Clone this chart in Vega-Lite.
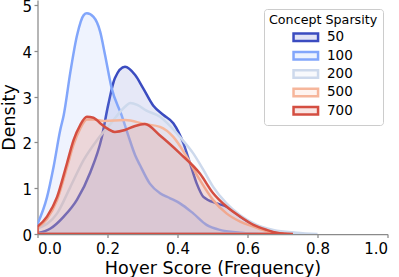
{
  "$schema": "https://vega.github.io/schema/vega-lite/v6.json",
  "width": 350,
  "height": 234,
  "autosize": {"type": "none"},
  "padding": {"left": 37.5, "top": 0, "right": 11.5, "bottom": 43},
  "config": {
    "view": {"stroke": null},
    "font": "DejaVu Sans",
    "axis": {
      "grid": false,
      "domainColor": "#8a8a8a",
      "domainWidth": 1.25,
      "tickColor": "#8a8a8a",
      "tickWidth": 1.25,
      "tickSize": 3.5,
      "labelFontSize": 15,
      "labelColor": "#000000",
      "titleFontSize": 17.5,
      "titleFontWeight": "normal",
      "titleColor": "#000000"
    }
  },
  "data": {
    "values": [
      {"k": 50, "x": 0, "density": 0.02},
      {"k": 50, "x": 0.037, "density": 0.12},
      {"k": 50, "x": 0.075, "density": 0.38},
      {"k": 50, "x": 0.113, "density": 0.75},
      {"k": 50, "x": 0.151, "density": 1.35},
      {"k": 50, "x": 0.183, "density": 2.09},
      {"k": 50, "x": 0.202, "density": 2.82},
      {"k": 50, "x": 0.221, "density": 3.4},
      {"k": 50, "x": 0.25, "density": 3.65},
      {"k": 50, "x": 0.279, "density": 3.47},
      {"k": 50, "x": 0.302, "density": 3.18},
      {"k": 50, "x": 0.331, "density": 2.8},
      {"k": 50, "x": 0.36, "density": 2.6},
      {"k": 50, "x": 0.388, "density": 2.42},
      {"k": 50, "x": 0.417, "density": 1.98},
      {"k": 50, "x": 0.436, "density": 1.54},
      {"k": 50, "x": 0.455, "density": 1.1},
      {"k": 50, "x": 0.474, "density": 0.81},
      {"k": 50, "x": 0.512, "density": 0.67},
      {"k": 50, "x": 0.54, "density": 0.6},
      {"k": 50, "x": 0.579, "density": 0.38},
      {"k": 50, "x": 0.617, "density": 0.2},
      {"k": 50, "x": 0.655, "density": 0.09},
      {"k": 50, "x": 0.7, "density": 0.01},
      {"k": 100, "x": 0, "density": 0.22},
      {"k": 100, "x": 0.027, "density": 0.8},
      {"k": 100, "x": 0.046, "density": 1.47},
      {"k": 100, "x": 0.065, "density": 2.27},
      {"k": 100, "x": 0.075, "density": 2.6},
      {"k": 100, "x": 0.094, "density": 3.54},
      {"k": 100, "x": 0.113, "density": 4.34},
      {"k": 100, "x": 0.132, "density": 4.78},
      {"k": 100, "x": 0.141, "density": 4.82},
      {"k": 100, "x": 0.16, "density": 4.74},
      {"k": 100, "x": 0.179, "density": 4.42},
      {"k": 100, "x": 0.193, "density": 3.91},
      {"k": 100, "x": 0.212, "density": 3.18},
      {"k": 100, "x": 0.24, "density": 2.6},
      {"k": 100, "x": 0.259, "density": 2.16},
      {"k": 100, "x": 0.279, "density": 1.72},
      {"k": 100, "x": 0.293, "density": 1.5},
      {"k": 100, "x": 0.321, "density": 1.1},
      {"k": 100, "x": 0.35, "density": 0.89},
      {"k": 100, "x": 0.379, "density": 0.78},
      {"k": 100, "x": 0.407, "density": 0.67},
      {"k": 100, "x": 0.445, "density": 0.45},
      {"k": 100, "x": 0.483, "density": 0.2},
      {"k": 100, "x": 0.521, "density": 0.09},
      {"k": 100, "x": 0.579, "density": 0.03},
      {"k": 100, "x": 0.63, "density": 0.0},
      {"k": 200, "x": 0, "density": 0.12},
      {"k": 200, "x": 0.056, "density": 0.45},
      {"k": 200, "x": 0.094, "density": 1.03},
      {"k": 200, "x": 0.132, "density": 1.62},
      {"k": 200, "x": 0.17, "density": 2.05},
      {"k": 200, "x": 0.208, "density": 2.4},
      {"k": 200, "x": 0.25, "density": 2.78},
      {"k": 200, "x": 0.265, "density": 2.86},
      {"k": 200, "x": 0.285, "density": 2.82},
      {"k": 200, "x": 0.31, "density": 2.7},
      {"k": 200, "x": 0.35, "density": 2.56},
      {"k": 200, "x": 0.407, "density": 2.12},
      {"k": 200, "x": 0.445, "density": 1.76},
      {"k": 200, "x": 0.474, "density": 1.4},
      {"k": 200, "x": 0.502, "density": 1.03},
      {"k": 200, "x": 0.54, "density": 0.67},
      {"k": 200, "x": 0.579, "density": 0.41},
      {"k": 200, "x": 0.626, "density": 0.2},
      {"k": 200, "x": 0.674, "density": 0.09},
      {"k": 200, "x": 0.74, "density": 0.03},
      {"k": 200, "x": 0.8, "density": 0.0},
      {"k": 500, "x": 0, "density": 0.14},
      {"k": 500, "x": 0.027, "density": 0.33},
      {"k": 500, "x": 0.056, "density": 0.74},
      {"k": 500, "x": 0.084, "density": 1.45},
      {"k": 500, "x": 0.103, "density": 1.95},
      {"k": 500, "x": 0.122, "density": 2.3},
      {"k": 500, "x": 0.141, "density": 2.5},
      {"k": 500, "x": 0.16, "density": 2.5},
      {"k": 500, "x": 0.19, "density": 2.47},
      {"k": 500, "x": 0.25, "density": 2.49},
      {"k": 500, "x": 0.307, "density": 2.4},
      {"k": 500, "x": 0.35, "density": 2.34},
      {"k": 500, "x": 0.388, "density": 2.12},
      {"k": 500, "x": 0.426, "density": 1.69},
      {"k": 500, "x": 0.464, "density": 1.18},
      {"k": 500, "x": 0.502, "density": 0.74},
      {"k": 500, "x": 0.54, "density": 0.45},
      {"k": 500, "x": 0.579, "density": 0.27},
      {"k": 500, "x": 0.617, "density": 0.16},
      {"k": 500, "x": 0.655, "density": 0.06},
      {"k": 500, "x": 0.7, "density": 0.01},
      {"k": 700, "x": 0, "density": 0.16},
      {"k": 700, "x": 0.027, "density": 0.38},
      {"k": 700, "x": 0.056, "density": 0.81},
      {"k": 700, "x": 0.084, "density": 1.54},
      {"k": 700, "x": 0.103, "density": 2.05},
      {"k": 700, "x": 0.122, "density": 2.38},
      {"k": 700, "x": 0.141, "density": 2.56},
      {"k": 700, "x": 0.16, "density": 2.54},
      {"k": 700, "x": 0.179, "density": 2.42},
      {"k": 700, "x": 0.2, "density": 2.3},
      {"k": 700, "x": 0.221, "density": 2.23},
      {"k": 700, "x": 0.25, "density": 2.27},
      {"k": 700, "x": 0.279, "density": 2.36},
      {"k": 700, "x": 0.307, "density": 2.4},
      {"k": 700, "x": 0.35, "density": 2.15},
      {"k": 700, "x": 0.407, "density": 1.76},
      {"k": 700, "x": 0.464, "density": 1.32},
      {"k": 700, "x": 0.502, "density": 0.89},
      {"k": 700, "x": 0.54, "density": 0.6},
      {"k": 700, "x": 0.579, "density": 0.38},
      {"k": 700, "x": 0.617, "density": 0.2},
      {"k": 700, "x": 0.655, "density": 0.09},
      {"k": 700, "x": 0.683, "density": 0.03},
      {"k": 700, "x": 0.73, "density": 0.0}
    ]
  },
  "mark": {"type": "area", "interpolate": "monotone", "fillOpacity": 0.13, "strokeOpacity": 1, "strokeWidth": 2.5, "clip": true},
  "encoding": {
    "x": {
      "field": "x", "type": "quantitative",
      "scale": {"domain": [0, 1], "nice": false},
      "axis": {"values": [0, 0.2, 0.4, 0.6, 0.8, 1], "format": ".1f", "title": "Hoyer Score (Frequency)", "labelPadding": 4, "titlePadding": 2.5}
    },
    "y": {
      "field": "density", "type": "quantitative", "stack": null,
      "scale": {"domain": [0, 5.11], "nice": false},
      "axis": {"values": [0, 1, 2, 3, 4, 5], "title": "Density", "labelPadding": 2.5, "labelOffset": 1.5, "titlePadding": 3.5}
    },
    "fill": {
      "field": "k", "type": "ordinal",
      "scale": {"domain": [50, 100, 200, 500, 700], "range": ["#3b4cc0", "#82a6fb", "#cdd9ec", "#f6b69b", "#d44e41"]},
      "legend": {
        "orient": "none", "legendX": 226.5, "legendY": 9,
        "title": "Concept Sparsity", "titleFontSize": 12.7, "titleFontWeight": "normal", "titleAnchor": "start", "titleColor": "#000000", "titlePadding": 3.8,
        "labelFontSize": 13.5, "labelColor": "#000000", "labelOffset": 14.2,
        "symbolType": "M-3.27,-1H3.27V1H-3.27Z", "symbolSize": 56.25, "symbolStrokeWidth": 2.5, "symbolOffset": 21.8,
        "rowPadding": 0.4, "padding": 5, "strokeColor": "#cccccc", "fillColor": "#ffffff", "cornerRadius": 3,
        "encode": {
          "symbols": {"update": {"x": {"value": 36.8}, "fillOpacity": {"value": 0.15}, "strokeOpacity": {"value": 1}}},
          "labels": {"update": {"x": {"value": 58}}}
        }
      }
    },
    "stroke": {
      "field": "k", "type": "ordinal",
      "scale": {"domain": [50, 100, 200, 500, 700], "range": ["#3b4cc0", "#82a6fb", "#cdd9ec", "#f6b69b", "#d44e41"]},
      "legend": {
        "orient": "none", "legendX": 226.5, "legendY": 9,
        "title": "Concept Sparsity", "titleFontSize": 12.7, "titleFontWeight": "normal", "titleAnchor": "start", "titleColor": "#000000", "titlePadding": 3.8,
        "labelFontSize": 13.5, "labelColor": "#000000", "labelOffset": 14.2,
        "symbolType": "M-3.27,-1H3.27V1H-3.27Z", "symbolSize": 56.25, "symbolStrokeWidth": 2.5, "symbolOffset": 21.8,
        "rowPadding": 0.4, "padding": 5, "strokeColor": "#cccccc", "fillColor": "#ffffff", "cornerRadius": 3,
        "encode": {
          "symbols": {"update": {"x": {"value": 36.8}, "fillOpacity": {"value": 0.15}, "strokeOpacity": {"value": 1}}},
          "labels": {"update": {"x": {"value": 58}}}
        }
      }
    }
  }
}
